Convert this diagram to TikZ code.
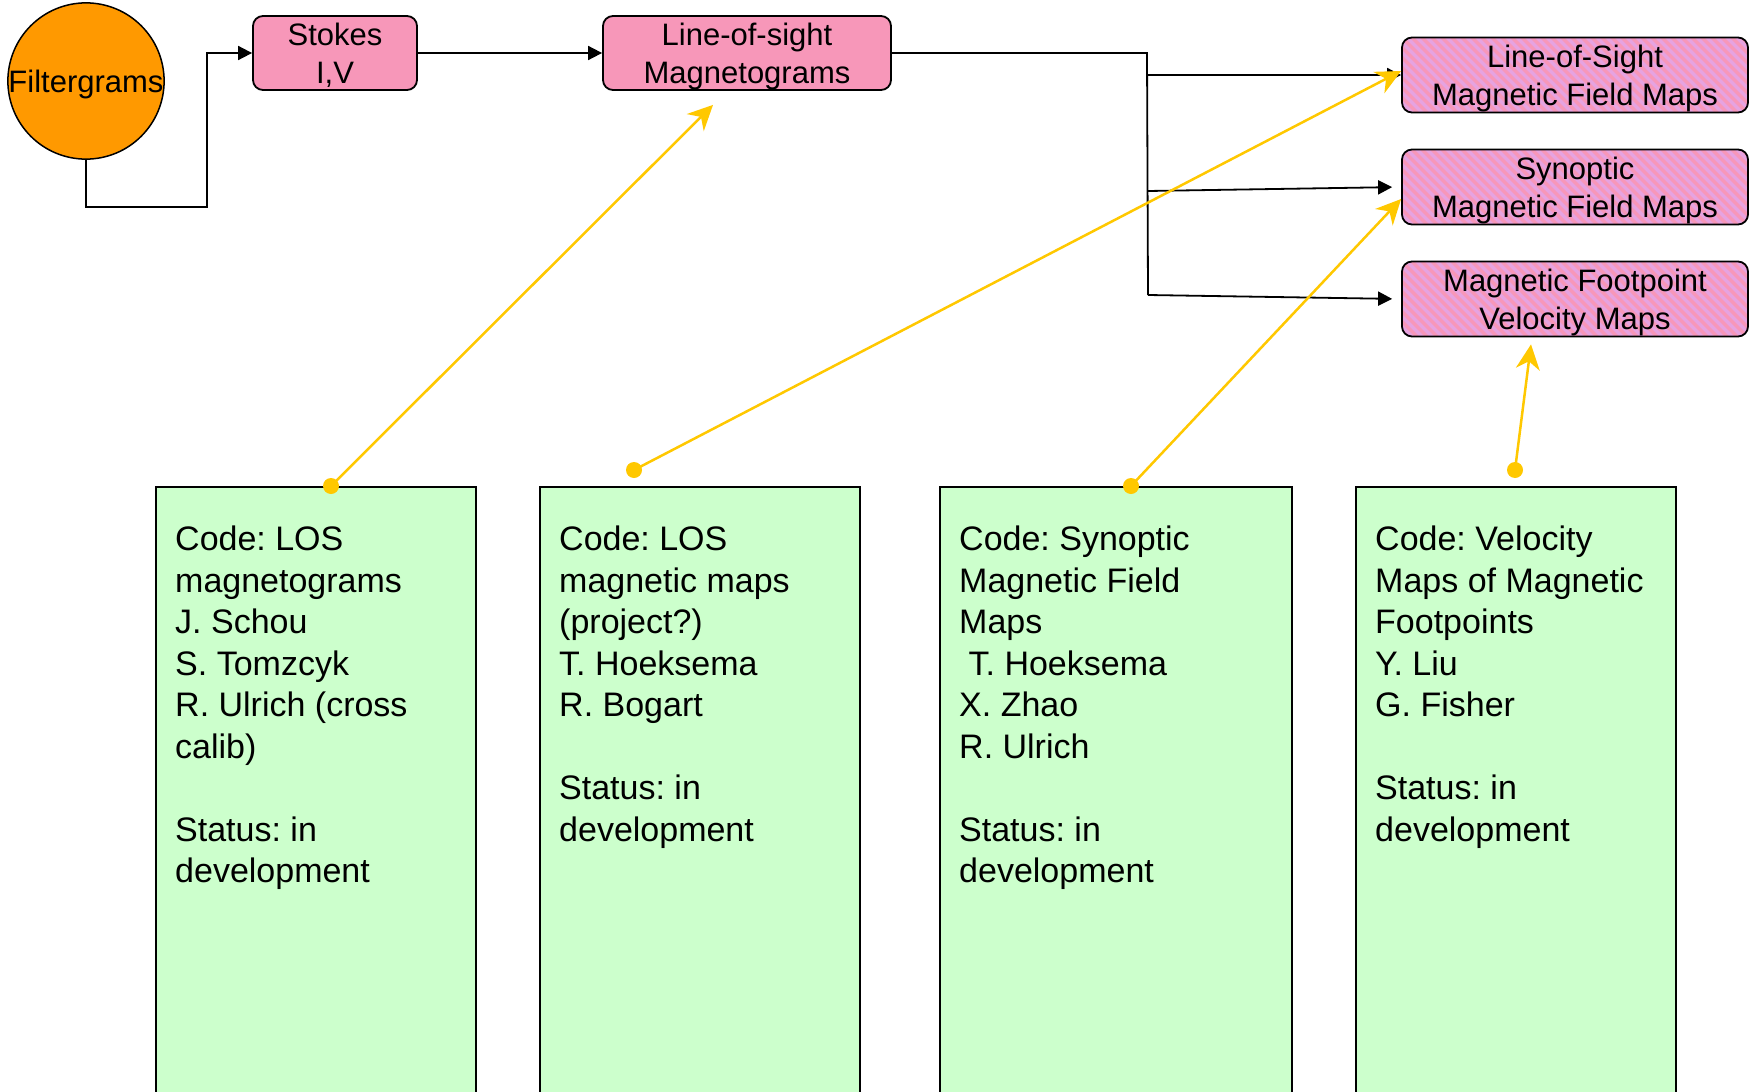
\documentclass[tikz,border=0pt]{standalone}
\usepackage{fontspec}
\setmainfont{Liberation Sans}
\frenchspacing
\usetikzlibrary{arrows.meta,calc}
\definecolor{orng}{HTML}{FF9900}
\definecolor{pnk}{HTML}{F797B9}
\definecolor{lav}{HTML}{E6A3E0}
\definecolor{grn}{HTML}{CCFFCC}
\definecolor{ylw}{HTML}{FFC800}
\begin{document}
\begin{tikzpicture}[x=1pt,y=-1pt,
  pbox/.style={rectangle, rounded corners=10pt, draw, line width=1.8pt, fill=pnk, align=center, inner sep=0pt,
    text depth=0pt, font=\fontsize{31}{38}\selectfont},
  hbox/.style={pbox, minimum width=346pt, minimum height=75pt,
    path picture={\foreach \k in {-12,...,36}{\draw[lav,line width=3.5pt] ($(path picture bounding box.north west)+(\k*10,-5)$) -- ++(100,100);}}},
  gbox/.style={rectangle, draw, line width=1.8pt, fill=grn, anchor=north west, inner sep=0pt, minimum height=614pt},
  gtext/.style={anchor=north west, align=left, inner sep=0pt, font=\fontsize{34}{41.5}\selectfont},
  dotn/.style={circle, fill=ylw, minimum size=16pt, inner sep=0pt},
  blk/.style={line width=1.8pt, -{Triangle[length=14pt,width=14pt]}},
  yarr/.style={ylw, line width=2.5pt, -{Stealth[length=25pt,width=24pt,inset=8pt]}}
]
\useasboundingbox (0,0) rectangle (1757,1092);
\fill[white] (0,0) rectangle (1757,1092);

% top row
\node[circle, draw, line width=1.5pt, fill=orng, minimum size=152pt, inner sep=0pt, text depth=0pt,
      font=\fontsize{31}{36}\selectfont] (filt) at (86,81) {Filtergrams};
\node[pbox, minimum width=164pt, minimum height=74pt] (stokes) at (335,53) {Stokes\\I,V};
\node[pbox, minimum width=288pt, minimum height=74pt] (los) at (747,53) {Line-of-sight\\Magnetograms};

% right products
\node[hbox] (r1) at (1575,75) {Line-of-Sight\\Magnetic Field Maps};
\node[hbox] (r2) at (1575,187) {Synoptic\\Magnetic Field Maps};
\node[hbox] (r3) at (1575,299) {Magnetic Footpoint\\Velocity Maps};

% green boxes
\node[gbox, minimum width=320pt] (ga) at (155,486) {};
\node[gbox, minimum width=320pt] (gb) at (539,486) {};
\node[gbox, minimum width=352pt] (gc) at (939,486) {};
\node[gbox, minimum width=320pt] (gd) at (1355,486) {};

\node[gtext] (ta) at ($(ga.north west)+(20,40)$) {Code: LOS\\magnetograms\\J. Schou\\S. Tomzcyk\\R. Ulrich (cross\\calib)\\\mbox{}\\Status: in\\development};
\node[gtext] (tb) at ($(gb.north west)+(20,40)$) {Code: LOS\\magnetic maps\\(project?)\\T. Hoeksema\\R. Bogart\\\mbox{}\\Status: in\\development};
\node[gtext] (tc) at ($(gc.north west)+(20,40)$) {Code: Synoptic\\Magnetic Field\\Maps\\\hspace*{0.278em}T. Hoeksema\\X. Zhao\\R. Ulrich\\\mbox{}\\Status: in\\development};
\node[gtext] (td) at ($(gd.north west)+(20,40)$) {Code: Velocity\\Maps of Magnetic\\Footpoints\\Y. Liu\\G. Fisher\\\mbox{}\\Status: in\\development};

% black connectors
\coordinate (c1) at (207,53);
\coordinate (j0) at (1147,53);
\coordinate (j1) at (1147,75);
\coordinate (j2) at (1148,191);
\coordinate (j3) at (1148,295);
\draw[blk] (filt.south) -- ++(0,47) -| (c1) -- (stokes.west);
\draw[blk] (stokes.east) -- (los.west);
\draw[line width=1.8pt] (los.east) -- (j0) -- (j3);
\draw[blk] (j1) -- (r1.west);
\draw[blk, shorten >=9pt] (j2) -- (r2.west);
\draw[blk, shorten >=9pt] (j3) -- (r3.west);

% yellow dots and arrows
\node[dotn] (da) at (331,486) {};
\node[dotn] (db) at (634,470) {};
\node[dotn] (dc) at (1131,486) {};
\node[dotn] (dd) at (1515,470) {};
\draw[yarr] (da.center) -- ($(los.south)+(-34,14)$);
\draw[yarr] (db.center) -- ($(r1.west)+(0,-4)$);
\draw[yarr] (dc.center) -- ($(r2.west)+(0,12)$);
\draw[yarr] (dd.center) -- ($(r3.south)+(-44,7)$);
\end{tikzpicture}
\end{document}
